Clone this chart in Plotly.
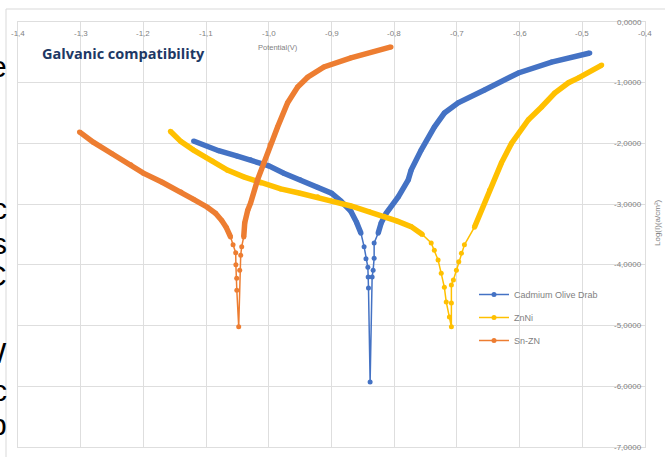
import plotly.graph_objects as go

# ---------------- data ----------------
cad_x = [-1.120, -1.080, -1.050, -1.029, -1.000, -0.976, -0.950, -0.922, -0.900, -0.885,
         -0.869, -0.860, -0.853, -0.848, -0.845, -0.842, -0.8415, -0.841, -0.8384,
         -0.8352, -0.8336, -0.832, -0.832, -0.8256, -0.8208, -0.8128, -0.7936, -0.7776,
         -0.773, -0.757, -0.736, -0.720, -0.698, -0.656, -0.602, -0.549, -0.488]
cad_y = [-1.96, -2.12, -2.21, -2.27, -2.37, -2.49, -2.60, -2.72, -2.82, -2.95,
         -3.12, -3.30, -3.48, -3.70, -3.90, -4.04, -4.20, -4.38, -5.93,
         -4.20, -4.09, -3.89, -3.64, -3.48, -3.31, -3.15, -2.88, -2.60,
         -2.44, -2.11, -1.73, -1.50, -1.33, -1.12, -0.84, -0.66, -0.51]

znni_x = [-1.157, -1.140, -1.120, -1.090, -1.066, -1.040, -1.013, -0.981, -0.950, -0.922,
          -0.900, -0.869, -0.840, -0.816, -0.795, -0.773, -0.755, -0.741, -0.736, -0.730,
          -0.725, -0.720, -0.717, -0.712, -0.7088,
          -0.7088, -0.7088, -0.7056, -0.7008, -0.697, -0.6928, -0.688, -0.672, -0.648,
          -0.629, -0.613, -0.586, -0.565, -0.544, -0.522, -0.506, -0.469]
znni_y = [-1.80, -1.97, -2.11, -2.29, -2.44, -2.55, -2.65, -2.75, -2.82, -2.88,
          -2.95, -3.03, -3.12, -3.20, -3.28, -3.37, -3.50, -3.64, -3.76, -3.92,
          -4.14, -4.37, -4.61, -4.86, -5.02,
          -4.63, -4.33, -4.25, -4.09, -3.95, -3.81, -3.67, -3.38, -2.77,
          -2.32, -2.00, -1.61, -1.40, -1.17, -1.00, -0.92, -0.71]

snzn_x = [-1.302, -1.280, -1.250, -1.220, -1.200, -1.170, -1.140, -1.120, -1.098, -1.085,
          -1.075, -1.068, -1.061, -1.057, -1.0528, -1.0525, -1.0512, -1.051, -1.048,
          -1.0464, -1.0448, -1.0432, -1.040, -1.0384, -1.0336, -1.029, -1.018, -1.008,
          -0.998, -0.986, -0.970, -0.954, -0.938, -0.912, -0.869, -0.805]
snzn_y = [-1.81, -1.98, -2.17, -2.35, -2.49, -2.64, -2.80, -2.92, -3.05, -3.15,
          -3.27, -3.38, -3.54, -3.67, -3.80, -4.00, -4.22, -4.42, -5.02,
          -4.09, -3.84, -3.70, -3.54, -3.31, -3.10, -2.98, -2.60, -2.32,
          -2.02, -1.73, -1.33, -1.07, -0.91, -0.74, -0.59, -0.41]

series_names = ["Cadmium Olive Drab", "ZnNi", "Sn-ZN"]
series_colors = ["#4472C4", "#FFC000", "#ED7D31"]

x_ticks = [-1.4, -1.3, -1.2, -1.1, -1.0, -0.9, -0.8, -0.7, -0.6, -0.5, -0.4]
x_ticktext = ["-1,4", "-1,3", "-1,2", "-1,1", "-1,0", "-0,9", "-0,8", "-0,7", "-0,6", "-0,5", "-0,4"]
y_ticks = [0, -1, -2, -3, -4, -5, -6, -7]
y_ticktext = ["0,0000", "-1,0000", "-2,0000", "-3,0000", "-4,0000", "-5,0000", "-6,0000", "-7,0000"]

chart_title = "Galvanic compatibility"
x_title = "Potential(V)"
y_title = "Log(I)(a/cm²)"
side_fragments = [("e", 66), ("c", 208), ("s", 243), ("C", 275), ("W", 352), ("c", 390), ("p", 424)]

# ---------------- figure ----------------
W, H = 665, 457
ML, MR, MT, MB = 18, 20, 22, 10
PW, PH = W - ML - MR, H - MT - MB


def px_x(p):
    return (p - ML) / PW


def px_y(p):
    return 1 - (p - MT) / PH


fig = go.Figure()
THICK_LIMIT = -3.6
for xs, ys, name, col in zip([cad_x, znni_x, snzn_x], [cad_y, znni_y, snzn_y],
                             series_names, series_colors):
    fig.add_trace(go.Scatter(x=xs, y=ys, mode="lines+markers", name=name,
                             line=dict(color=col, width=1.5),
                             marker=dict(color=col, size=5),
                             legendgroup=name))
    imin = ys.index(min(ys))
    tx, ty = [], []
    for i, (a, b) in enumerate(zip(xs, ys)):
        if i == imin:
            tx.append(None); ty.append(None)
            continue
        if b >= THICK_LIMIT:
            tx.append(a); ty.append(b)
    fig.add_trace(go.Scatter(x=tx, y=ty, mode="lines", showlegend=False,
                             line=dict(color=col, width=5.5), hoverinfo="skip",
                             legendgroup=name, connectgaps=False))

FONT = "Liberation Sans, Arial, sans-serif"
GREY = "#7f7f7f"

fig.update_layout(
    width=W, height=H,
    margin=dict(l=ML, r=MR, t=MT, b=MB, pad=0),
    paper_bgcolor="white", plot_bgcolor="white",
    showlegend=True,
    legend=dict(x=px_x(474), y=px_y(280), xanchor="left", yanchor="top",
                font=dict(family=FONT, size=9, color=GREY),
                bgcolor="rgba(0,0,0,0)", itemwidth=30, tracegroupgap=4,
                traceorder="grouped"),
    xaxis=dict(side="top", range=[-1.4, -0.4], tickvals=x_ticks, showticklabels=False,
               ticks="", showgrid=True, gridcolor="#dedede", gridwidth=1,
               showline=True, linecolor="#dedede", mirror=True, zeroline=False),
    yaxis=dict(side="right", range=[-7, 0], tickvals=y_ticks, showticklabels=False,
               ticks="", showgrid=True, gridcolor="#dedede", gridwidth=1,
               showline=True, linecolor="#dedede", mirror=True, zeroline=False),
)

# tick labels placed inside the plot, next to the axes (as in the original)
for v, t in zip(x_ticks, x_ticktext):
    fig.add_annotation(text=t, xref="x", yref="paper", x=v, y=px_y(33),
                       xanchor="center", yanchor="middle", showarrow=False,
                       font=dict(family=FONT, size=8, color=GREY))
for v, t in zip(y_ticks, y_ticktext):
    fig.add_annotation(text=t, xref="paper", yref="y", x=px_x(644), y=v,
                       xanchor="right", yanchor="middle", showarrow=False,
                       font=dict(family=FONT, size=8, color=GREY))

# outer chart border
fig.add_shape(type="rect", xref="paper", yref="paper",
              x0=px_x(6), x1=px_x(700), y0=px_y(480), y1=px_y(9),
              line=dict(color="#d9d9d9", width=1), layer="below")

fig.add_annotation(text="<b>" + chart_title + "</b>", xref="paper", yref="paper",
                   x=px_x(40), y=px_y(53), xanchor="left", yanchor="middle",
                   showarrow=False,
                   font=dict(family="Open Sans, Liberation Sans, sans-serif", size=14.5, color="#203864"))
fig.add_annotation(text=x_title, xref="paper", yref="paper",
                   x=px_x(278), y=px_y(47), xanchor="center", yanchor="middle",
                   showarrow=False, font=dict(family=FONT, size=7.5, color=GREY))
fig.add_annotation(text=y_title, xref="paper", yref="paper",
                   x=px_x(658), y=px_y(223), xanchor="center", yanchor="middle",
                   textangle=-90, showarrow=False,
                   font=dict(family=FONT, size=8, color=GREY))
for ch, ypix in side_fragments:
    fig.add_annotation(text=ch, xref="paper", yref="paper",
                       x=px_x(9), y=px_y(ypix), xanchor="right", yanchor="middle",
                       showarrow=False,
                       font=dict(family=FONT, size=30, color="#000000"))

# remove the browser's default page margin so the figure fills the window exactly
fig.write_html("out.html", config={"displayModeBar": False},
               post_script="document.body.style.margin='0';")
